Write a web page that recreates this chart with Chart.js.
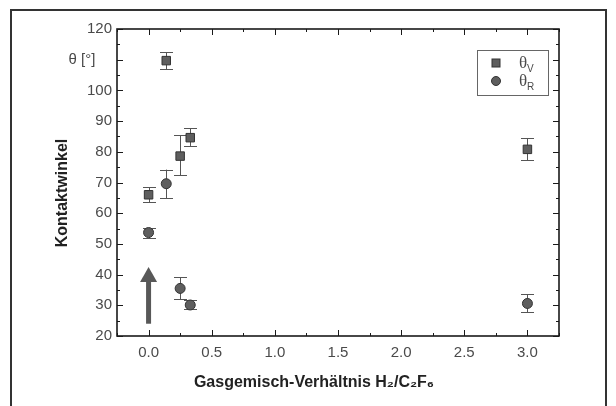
<!DOCTYPE html>
<html>
<head>
<meta charset="utf-8">
<script src="https://cdn.jsdelivr.net/npm/chart.js@4.4.1/dist/chart.umd.min.js"></script>
<style>
    html, body { margin: 0; padding: 0; background: #fff; }
    #chart { display: block; }
</style>
</head>
<body>
<canvas id="chart" width="616" height="406"></canvas>
<script>
    // gas mixture ratio H2/C2F6
    const ratios = [0, 0.14, 0.25, 0.33, 3.0];
    // advancing angle theta_V
    const thetaV = [66, 109.7, 78.6, 84.6, 80.8];
    const thetaVLow = [63.5, 106.9, 72.4, 81.9, 77.2];
    const thetaVHigh = [68.4, 112.5, 85.4, 87.7, 84.5];
    // receding angle theta_R
    const thetaR = [53.7, 69.6, 35.5, 30.1, 30.6];
    const thetaRLow = [51.9, 64.9, 32.0, 28.9, 27.8];
    const thetaRHigh = [55.2, 74.2, 39.1, 31.7, 33.6];
    // axis ticks
    const xTicks = [0, 0.5, 1.0, 1.5, 2.0, 2.5, 3.0];
    const xMinorTicks = [-0.25, 0.25, 0.75, 1.25, 1.75, 2.25, 2.75, 3.25];
    const yTicks = [20, 30, 40, 50, 60, 70, 80, 90, 100, 110, 120];
    const yMinorTicks = [25, 35, 45, 55, 65, 75, 85, 95, 105, 115];
    // arrow at x = 0
    const arrowX = [0];
    const arrowFrom = [24];
    const arrowTo = [42.5];

    const markFill = '#5e5e5e';
    const markLine = '#333';
    const textCol = '#4a4a4a';

    const toPoints = (xs, ys) => xs.map((x, i) => ({ x: x, y: ys[i] }));

    /*------------------------------- plugin: frame, errors, ticks -------------------------------*/
    const extras = {
        id: 'extras',
        beforeDraw(chart) {
            const ctx = chart.ctx;
            ctx.save();
            ctx.strokeStyle = '#333';
            ctx.lineWidth = 2;
            ctx.strokeRect(11, 10, 595, 410);
            ctx.restore();
        },
        beforeDatasetsDraw(chart) {
            const ctx = chart.ctx;
            const xs = chart.scales.x, ys = chart.scales.y;
            ctx.save();
            ctx.strokeStyle = '#555';
            ctx.lineWidth = 1;
            [[thetaVLow, thetaVHigh], [thetaRLow, thetaRHigh]].forEach(([lo, hi]) => {
                ratios.forEach((r, i) => {
                    const px = Math.round(xs.getPixelForValue(r)) + 0.5;
                    const y1 = ys.getPixelForValue(lo[i]);
                    const y2 = ys.getPixelForValue(hi[i]);
                    ctx.beginPath();
                    ctx.moveTo(px, y1); ctx.lineTo(px, y2);
                    ctx.moveTo(px - 6.5, Math.round(y1) + 0.5); ctx.lineTo(px + 6.5, Math.round(y1) + 0.5);
                    ctx.moveTo(px - 6.5, Math.round(y2) + 0.5); ctx.lineTo(px + 6.5, Math.round(y2) + 0.5);
                    ctx.stroke();
                });
            });
            // arrow
            ctx.fillStyle = '#585858';
            arrowX.forEach((ax, i) => {
                const px = xs.getPixelForValue(ax);
                const yb = ys.getPixelForValue(arrowFrom[i]);
                const yt = ys.getPixelForValue(arrowTo[i]);
                ctx.fillRect(px - 2.5, yt + 14, 5, yb - yt - 14);
                ctx.beginPath();
                ctx.moveTo(px, yt);
                ctx.lineTo(px + 8.5, yt + 15);
                ctx.lineTo(px - 8.5, yt + 15);
                ctx.closePath();
                ctx.fill();
            });
            ctx.restore();
        },
        afterDraw(chart) {
            const ctx = chart.ctx;
            const a = chart.chartArea;
            const xs = chart.scales.x, ys = chart.scales.y;
            ctx.save();
            // box
            ctx.strokeStyle = '#1a1a1a';
            ctx.lineWidth = 1.6;
            ctx.strokeRect(a.left, a.top, a.right - a.left, a.bottom - a.top);
            // inward ticks
            ctx.lineWidth = 1;
            ctx.beginPath();
            const xt = (v, len) => {
                const px = Math.round(xs.getPixelForValue(v)) + 0.5;
                ctx.moveTo(px, a.bottom); ctx.lineTo(px, a.bottom - len);
                ctx.moveTo(px, a.top); ctx.lineTo(px, a.top + len);
            };
            const yt = (v, len) => {
                const py = Math.round(ys.getPixelForValue(v)) + 0.5;
                ctx.moveTo(a.left, py); ctx.lineTo(a.left + len, py);
                ctx.moveTo(a.right, py); ctx.lineTo(a.right - len, py);
            };
            xTicks.forEach(v => xt(v, 6));
            xMinorTicks.forEach(v => xt(v, 3));
            yTicks.forEach(v => yt(v, 6));
            yMinorTicks.forEach(v => yt(v, 3));
            ctx.stroke();

            // axis titles
            ctx.fillStyle = '#222';
            ctx.font = 'bold 16px "Liberation Sans", Arial, sans-serif';
            ctx.textAlign = 'center';
            ctx.textBaseline = 'middle';
            ctx.fillText('Gasgemisch-Verhältnis H₂/C₂F₆', 314, 383);
            ctx.save();
            ctx.translate(63, 193);
            ctx.rotate(-Math.PI / 2);
            ctx.fillText('Kontaktwinkel', 0, 0);
            ctx.restore();

            // legend
            ctx.strokeStyle = '#666';
            ctx.lineWidth = 1;
            ctx.strokeRect(477.5, 50.5, 71, 45);
            ctx.fillStyle = markFill;
            ctx.strokeStyle = markLine;
            ctx.fillRect(492, 59, 8, 8);
            ctx.strokeRect(492, 59, 8, 8);
            ctx.beginPath();
            ctx.arc(496, 81, 4.5, 0, Math.PI * 2);
            ctx.fill(); ctx.stroke();
            ctx.fillStyle = textCol;
            ctx.textAlign = 'left';
            ctx.font = '17px "Liberation Serif", serif';
            ctx.fillText('θ', 519, 64);
            ctx.fillText('θ', 519, 82);
            ctx.font = '10px "Liberation Sans", Arial, sans-serif';
            ctx.fillText('V', 527, 69);
            ctx.fillText('R', 527, 87);
            ctx.restore();
        }
    };

    /*------------------------------------------ chart ------------------------------------------*/
    new Chart(document.getElementById('chart'), {
        type: 'scatter',
        data: {
            datasets: [{
                label: 'θV',
                data: toPoints(ratios, thetaV),
                pointStyle: 'rect',
                pointRadius: 6,
                backgroundColor: markFill,
                borderColor: markLine,
                borderWidth: 1
            }, {
                label: 'θR',
                data: toPoints(ratios, thetaR),
                pointStyle: 'circle',
                pointRadius: 5,
                backgroundColor: markFill,
                borderColor: markLine,
                borderWidth: 1
            }]
        },
        options: {
            responsive: false,
            devicePixelRatio: 1,
            animation: false,
            layout: { padding: { left: 0, top: 29, right: 57, bottom: 0 } },
            plugins: { legend: { display: false }, tooltip: { enabled: false } },
            scales: {
                x: {
                    type: 'linear',
                    min: -0.25,
                    max: 3.25,
                    afterBuildTicks: s => { s.ticks = xTicks.map(v => ({ value: v })); },
                    afterFit: s => { s.height = 70; },
                    grid: { display: false, drawTicks: false },
                    border: { display: false },
                    ticks: {
                        padding: 8,
                        color: textCol,
                        font: { family: '"Liberation Sans", Arial, sans-serif', size: 15 },
                        callback: v => v.toFixed(1)
                    }
                },
                y: {
                    min: 20,
                    max: 120,
                    afterBuildTicks: s => { s.ticks = yTicks.map(v => ({ value: v })); },
                    afterFit: s => { s.width = 117; },
                    grid: { display: false, drawTicks: false },
                    border: { display: false },
                    ticks: {
                        padding: 5,
                        color: textCol,
                        font: { family: '"Liberation Sans", Arial, sans-serif', size: 15 },
                        callback: v => v === 110 ? 'θ [°]    ' : String(v)
                    }
                }
            }
        },
        plugins: [extras]
    });
</script>
</body>
</html>
